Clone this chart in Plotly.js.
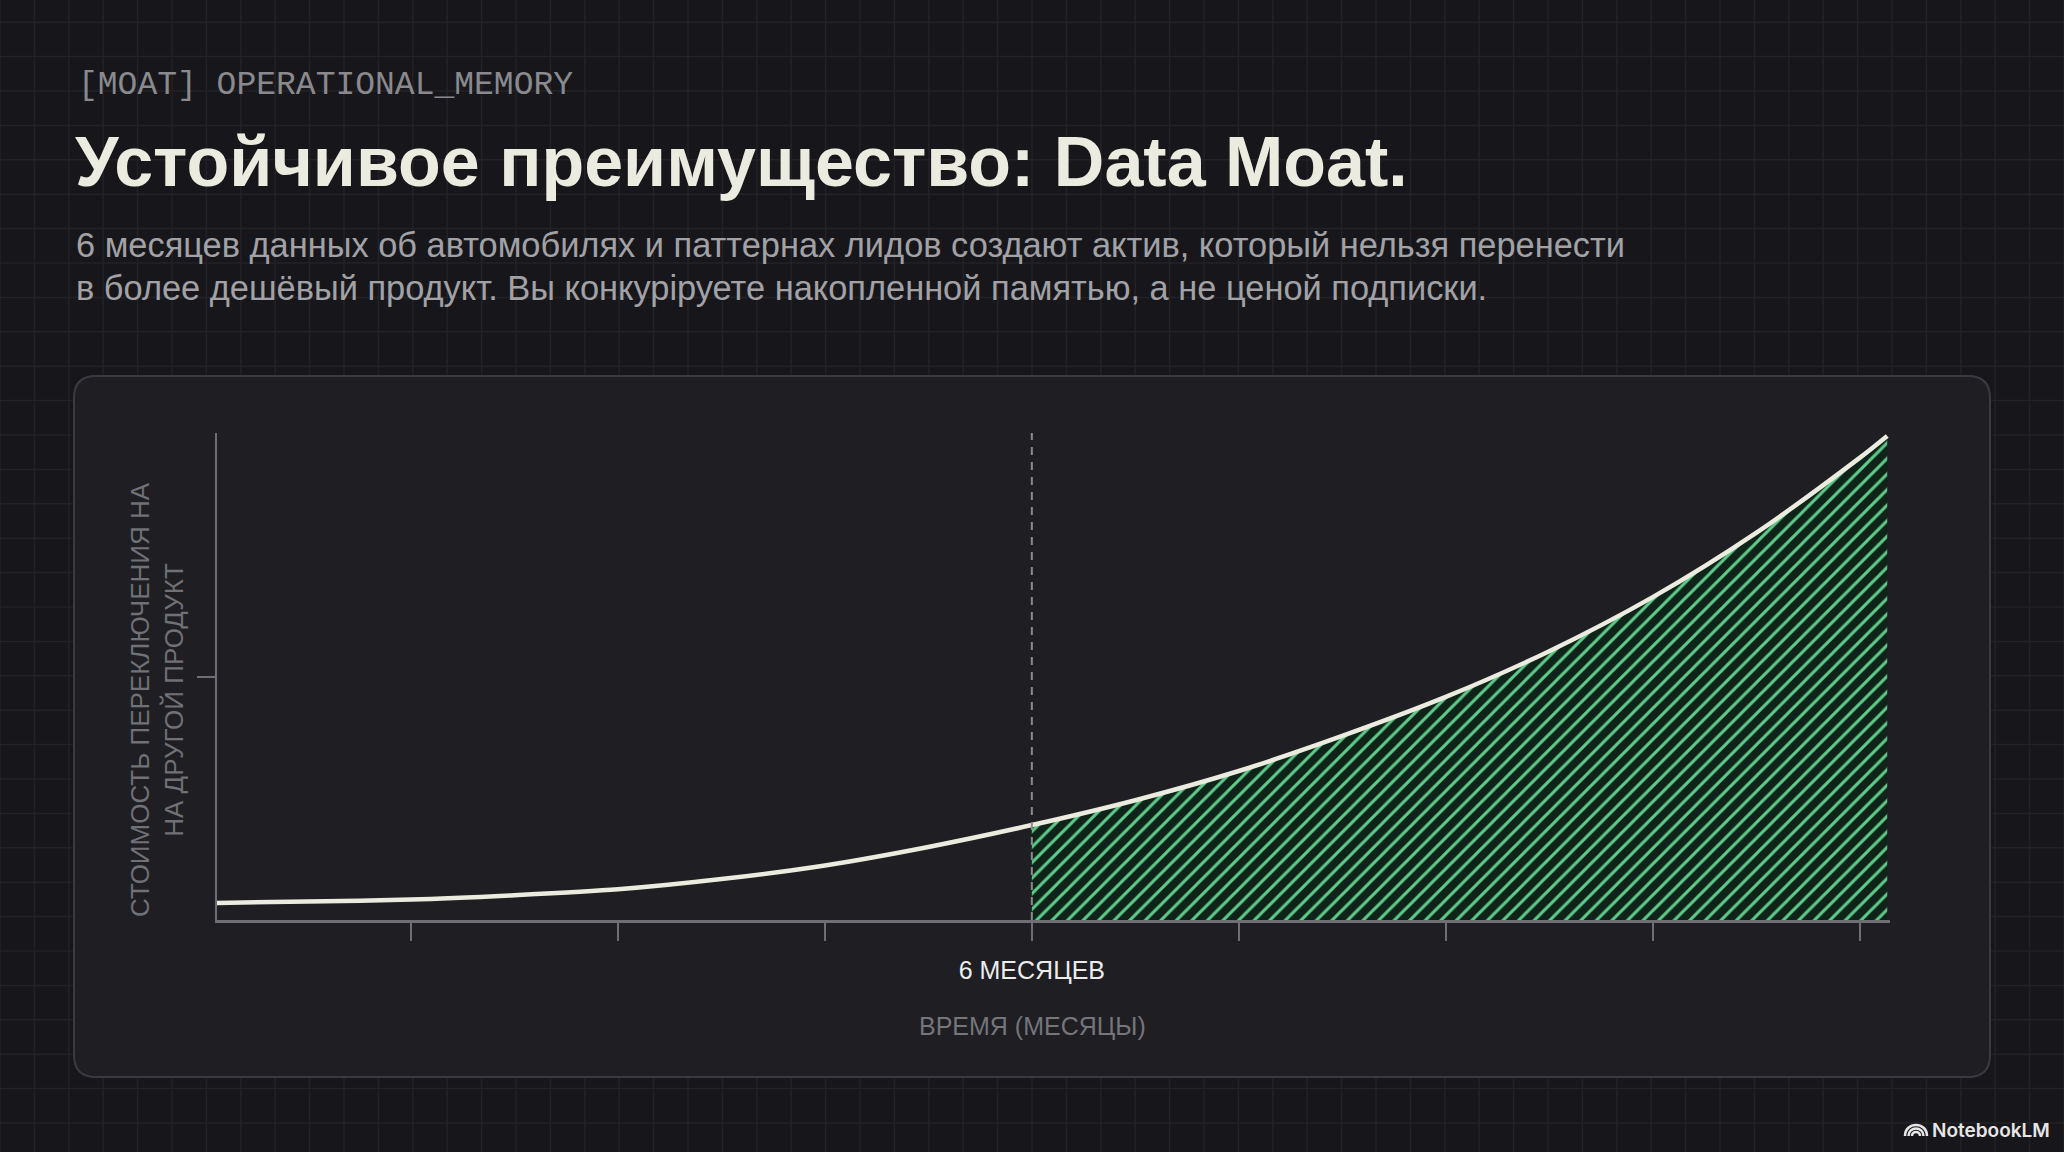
<!DOCTYPE html>
<html>
<head>
<meta charset="utf-8">
<script src="https://cdn.plot.ly/plotly-3.0.1.min.js"></script>
<style>
  html, body { margin: 0; padding: 0; background: #17171b; }
  #chart { width: 2064px; height: 1152px; }
</style>
</head>
<body>
<div id="chart"></div>
<script>
// ---------- data ----------
const months = [0.094, 0.75, 1.5, 2.25, 3.0, 3.75, 4.5, 5.25, 6.0, 6.75, 7.5, 8.25, 9.0, 9.75, 10.5, 11.25, 12.0, 12.2];
const switchingCost = [0.035, 0.038, 0.042, 0.051, 0.063, 0.084, 0.112, 0.150, 0.195, 0.246, 0.306, 0.378, 0.458, 0.552, 0.663, 0.795, 0.949, 0.994];
const markerMonth = 6;
const xTickVals = [1.5, 3, 4.5, 6, 7.5, 9, 10.5, 12];
const xTickText = ['', '', '', '6 МЕСЯЦЕВ', '', '', '', ''];
const yTickVals = [0.5];
const yTickText = [''];

const kicker = '[MOAT] OPERATIONAL_MEMORY';
const headline = 'Устойчивое преимущество: Data Moat.';
const subLine1 = '6 месяцев данных об автомобилях и паттернах лидов создают актив, который нельзя перенести';
const subLine2 = 'в более дешёвый продукт. Вы конкуріруете накопленной памятью, а не ценой подписки.';
const xTitle = 'ВРЕМЯ (МЕСЯЦЫ)';
const yTitle = 'СТОИМОСТЬ ПЕРЕКЛЮЧЕНИЯ НА<br>НА ДРУГОЙ ПРОДУКТ';
const brand = 'NotebookLM';

// ---------- layout geometry (pixels) ----------
const W = 2064, H = 1152;
const PL = 217, PR = 1890, PT = 433, PB = 920;
const pw = PR - PL, ph = PB - PT;
const px = X => (X - PL) / pw;
const py = Y => (PB - Y) / ph;

const shapes = [];
// background grid
const gridStep = 34.4;
for (let k = 0; k * gridStep <= W + 1; k++) {
  const X = k * gridStep;
  shapes.push({type: 'line', xref: 'paper', yref: 'paper', x0: px(X), x1: px(X), y0: py(0), y1: py(H),
    line: {color: '#222227', width: 1.5}, layer: 'below'});
}
for (let k = 0; 1123 - k * gridStep >= -2; k++) {
  const Y = 1123 - k * gridStep;
  shapes.push({type: 'line', xref: 'paper', yref: 'paper', x0: px(0), x1: px(W), y0: py(Y), y1: py(Y),
    line: {color: '#222227', width: 1.5}, layer: 'below'});
}
// card with rounded corners
(function () {
  const x0 = 74, x1 = 1990, y0 = 376, y1 = 1077, r = 22;
  const P = (X, Y) => px(X) + ',' + py(Y);
  const d = 'M' + P(x0 + r, y0) + ' L' + P(x1 - r, y0) + ' Q' + P(x1, y0) + ' ' + P(x1, y0 + r) +
            ' L' + P(x1, y1 - r) + ' Q' + P(x1, y1) + ' ' + P(x1 - r, y1) +
            ' L' + P(x0 + r, y1) + ' Q' + P(x0, y1) + ' ' + P(x0, y1 - r) +
            ' L' + P(x0, y0 + r) + ' Q' + P(x0, y0) + ' ' + P(x0 + r, y0) + ' Z';
  shapes.push({type: 'path', xref: 'paper', yref: 'paper', path: d,
    fillcolor: '#1e1e23', line: {color: '#3a3a40', width: 2}, layer: 'below'});
})();
// 6-month dashed marker
shapes.push({type: 'line', xref: 'x', yref: 'paper', x0: markerMonth, x1: markerMonth, y0: 0, y1: 1,
  line: {color: '#8a8a90', width: 2, dash: '8px,7px'}, layer: 'above'});
// brand icon (arches)
(function () {
  const cx = 1916, cy = 1136;
  [11, 7.5, 4].forEach(r => {
    const P = (X, Y) => px(X) + ',' + py(Y);
    const d = 'M' + P(cx - r, cy) + ' C' + P(cx - r, cy - 1.33 * r) + ' ' + P(cx + r, cy - 1.33 * r) + ' ' + P(cx + r, cy);
    shapes.push({type: 'path', xref: 'paper', yref: 'paper', path: d, line: {color: '#e6e6e6', width: 2.5}, layer: 'above'});
  });
})();

const sans = 'Liberation Sans, Arial, sans-serif';
const annotations = [
  {text: kicker, x: px(76), y: py(85), xanchor: 'left', yanchor: 'middle',
   font: {family: 'Liberation Mono, DejaVu Sans Mono, monospace', size: 33, color: '#8a8a8e'}},
  {text: '<b>' + headline + '</b>', x: px(73), y: py(162), xanchor: 'left', yanchor: 'middle',
   font: {family: sans, size: 70, color: '#ecebdf'}},
  {text: subLine1, x: px(74), y: py(245), xanchor: 'left', yanchor: 'middle',
   font: {family: sans, size: 34.4, color: '#a2a2a6'}},
  {text: subLine2, x: px(74), y: py(288), xanchor: 'left', yanchor: 'middle',
   font: {family: sans, size: 34.4, color: '#a2a2a6'}},
  {text: xTitle, x: px(1032), y: py(1026), xanchor: 'center', yanchor: 'middle',
   font: {family: sans, size: 25, color: '#75757a'}},
  {text: yTitle, x: px(157), y: py(700), xanchor: 'center', yanchor: 'middle', textangle: -90,
   font: {family: sans, size: 26, color: '#707075'}},
  {text: brand, x: px(2052), y: py(1130), xanchor: 'right', yanchor: 'middle',
   font: {family: 'Inter, Liberation Sans, sans-serif', size: 19, weight: 600, color: '#e6e6e6'}}
];
annotations.forEach(a => { a.xref = 'paper'; a.yref = 'paper'; a.showarrow = false; });

// ---------- traces ----------
const startIdx = months.findIndex(m => m >= markerMonth);
const hatch = {
  x: months.slice(startIdx), y: switchingCost.slice(startIdx),
  type: 'scatter', mode: 'lines', fill: 'tozeroy', line: {width: 0, shape: 'spline', smoothing: 0.8},
  fillcolor: '#0f2318',
  fillpattern: {shape: '/', size: 11, solidity: 0.27, fgcolor: '#5fcb8b', bgcolor: '#0f2318', fillmode: 'replace'},
  hoverinfo: 'skip', showlegend: false
};
const curve = {
  x: months, y: switchingCost, type: 'scatter', mode: 'lines',
  line: {color: '#ecebdf', width: 4.5, shape: 'spline', smoothing: 0.8},
  hoverinfo: 'skip', showlegend: false
};

const layout = {
  width: W, height: H,
  margin: {l: PL, r: W - PR, t: PT, b: H - PB, pad: 0},
  paper_bgcolor: '#17171b', plot_bgcolor: 'rgba(0,0,0,0)',
  showlegend: false,
  xaxis: {
    range: [0.094, 12.22], showgrid: false, zeroline: false,
    showline: true, linecolor: '#6e6e74', linewidth: 2.5,
    ticks: 'outside', ticklen: 18, tickwidth: 2, tickcolor: '#6e6e74',
    tickvals: xTickVals, ticktext: xTickText, ticklabelstandoff: 8,
    tickfont: {family: sans, size: 25, color: '#ececec'}
  },
  yaxis: {
    range: [0, 1], showgrid: false, zeroline: false,
    showline: true, linecolor: '#6e6e74', linewidth: 2.5,
    ticks: 'outside', ticklen: 18, tickwidth: 2, tickcolor: '#6e6e74',
    tickvals: yTickVals, ticktext: yTickText
  },
  shapes: shapes,
  annotations: annotations
};

Plotly.newPlot('chart', [hatch, curve], layout, {displayModeBar: false, staticPlot: true});
</script>
</body>
</html>
